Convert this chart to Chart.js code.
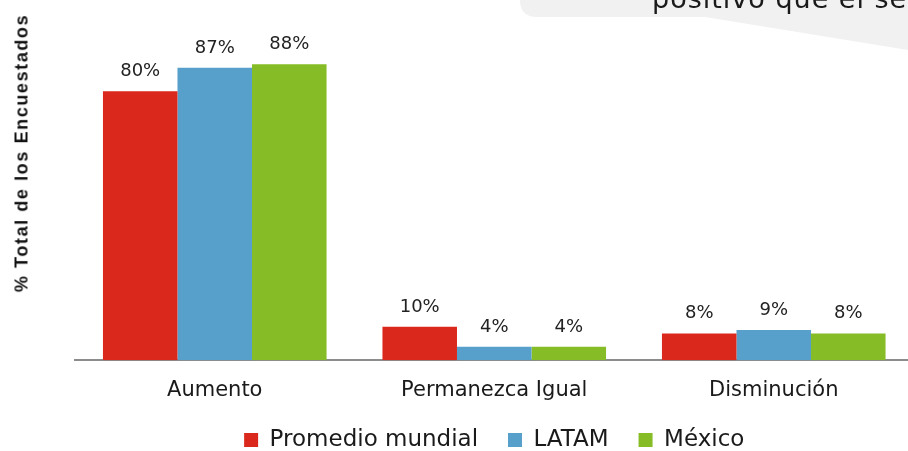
<!DOCTYPE html>
<html><head><meta charset="utf-8">
<script src="https://cdn.jsdelivr.net/npm/chart.js@4.4.1/dist/chart.umd.min.js"></script>
<style>
html,body{margin:0;padding:0;background:#fff;overflow:hidden;width:908px;height:451px;}
#wrap{position:relative;width:908px;height:451px;overflow:hidden;}
#c{position:absolute;left:0;top:0;}
#callout{position:absolute;left:0;top:0;}
#ytitle{position:absolute;left:22px;top:153px;transform:translate(-50%,-50%) rotate(-90deg);white-space:nowrap;font:bold 18px "Liberation Sans",Arial,sans-serif;letter-spacing:1.6px;color:#111;}
</style></head><body>
<div id="wrap">
<canvas id="c" width="920" height="451"></canvas>
<svg id="callout" width="908" height="60" xmlns="http://www.w3.org/2000/svg">
  <path d="M 520 -20 L 520 0 Q 520 17 537 17 L 705 17 L 920 52 L 920 -20 Z" fill="#f1f1f1"/>
  <text x="652" y="7.5" font-family="DejaVu Sans" font-size="27" letter-spacing="1" fill="#1a1a1a">positivo que el se</text>
</svg>
<div id="ytitle">% Total de los Encuestados</div>
</div>
<script>
const categories = ['Aumento', 'Permanezca Igual', 'Disminución'];
const seriesNames = ['Promedio mundial', 'LATAM', 'México'];
const promedioMundial = [80, 10, 8];
const latam = [87, 4, 9];
const mexico = [88, 4, 8];
const seriesColors = ['#DA291C', '#58A0CC', '#86BC25'];

const valueLabels = {
  id: 'valueLabels',
  afterDatasetsDraw(chart) {
    const ctx = chart.ctx;
    ctx.save();
    ctx.font = '18px "DejaVu Sans"';
    ctx.fillStyle = '#222';
    ctx.textAlign = 'center';
    ctx.textBaseline = 'alphabetic';
    chart.data.datasets.forEach((ds, i) => {
      chart.getDatasetMeta(i).data.forEach((bar, j) => {
        ctx.fillText(ds.data[j] + '%', bar.x, bar.y - 15);
      });
    });
    ctx.restore();
  }
};

const values = [promedioMundial, latam, mexico];
new Chart(document.getElementById('c'), {
  type: 'bar',
  data: {
    labels: categories,
    datasets: values.map((v, i) => ({
      label: seriesNames[i],
      data: v,
      backgroundColor: seriesColors[i],
      borderWidth: 0,
      categoryPercentage: 0.8,
      barPercentage: 1.0
    }))
  },
  options: {
    responsive: false,
    animation: false,
    events: [],
    layout: { padding: { top: 24, left: 75, right: 6.5, bottom: 0.5 } },
    scales: {
      x: {
        z: 1,
        grid: { display: false, drawTicks: false },
        border: { display: true, color: '#8c8c8c', width: 2 },
        ticks: { padding: 17.5, color: '#1a1a1a', autoSkip: false, maxRotation: 0,
                 font: { family: 'DejaVu Sans', size: 21 } }
      },
      y: { display: false, min: 0, max: 100 }
    },
    plugins: {
      tooltip: { enabled: false },
      legend: {
        position: 'bottom',
        maxHeight: 30,
        labels: {
          boxWidth: 14, boxHeight: 14, padding: 8, color: '#1a1a1a',
          font: { family: 'DejaVu Sans', size: 23 },
          generateLabels(chart) {
            const items = Chart.defaults.plugins.legend.labels.generateLabels(chart);
            items.forEach((it, i) => { it.lineWidth = 0; if (i < items.length - 1) it.text += '\u00a0\u00a0\u00a0'; });
            return items;
          }
        }
      }
    }
  },
  plugins: [valueLabels]
});
</script>
</body></html>
